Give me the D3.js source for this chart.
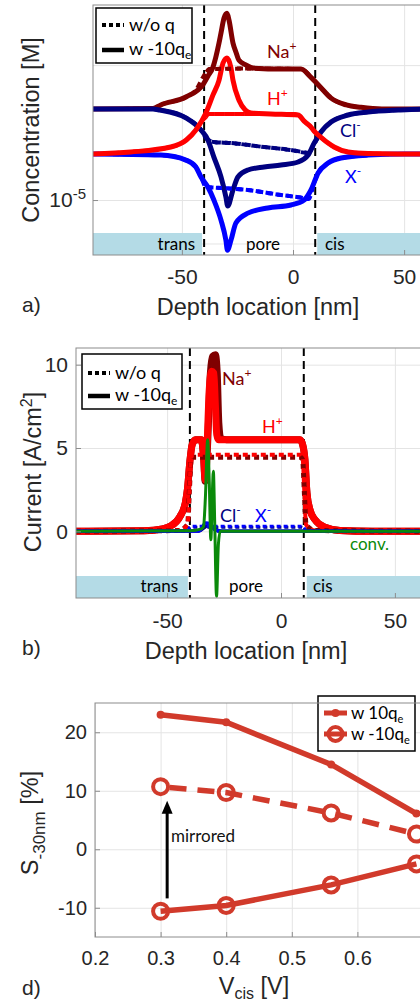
<!DOCTYPE html>
<html>
<head>
<meta charset="utf-8">
<script src="https://cdn.jsdelivr.net/npm/d3@7"></script>
<style>
body { margin: 0; background: #fff; }
svg { display: block; font-family: "Liberation Sans", Arial, sans-serif; }
.grid line { stroke: #e4e4e4; stroke-width: 1; }
.grid path { display: none; }
.axis path { display: none; }
.axis line { stroke: #8c8c8c; }
.axis text { fill: #262626; font-family: "Liberation Sans", Arial, sans-serif; }
.frame { fill: none; stroke: #8c8c8c; stroke-width: 1; }
.lbl { font-family: Lato, "Open Sans", sans-serif; }
.title { fill: #262626; font-size: 23.5px; }
</style>
</head>
<body>
<script>
// ---------- data: panel a (concentration [M] vs depth [nm]) ----------
var depthTicks = [-50, 0, 50];
var concGrid = [8e-6, 1e-5, 2e-5];
var concTicks = [1e-5];
var poreEdges = [-40, 10];

var naSolidA = [[-90,1.596e-5],[-63,1.60e-5],[-59.5,1.63e-5],[-48,1.70e-5],[-40.5,1.81e-5],[-38.3,1.89e-5],[-36,1.98e-5],[-33.3,2.24e-5],[-32.4,2.36e-5],[-31,2.55e-5],[-29.7,2.61e-5],[-28.8,2.52e-5],[-27,2.24e-5],[-25.7,2.14e-5],[-24.3,2.05e-5],[-21,2.00e-5],[-18,1.97e-5],[-5,1.96e-5],[3.6,1.96e-5],[8,1.88e-5],[12.6,1.78e-5],[17,1.69e-5],[24,1.63e-5],[30.6,1.61e-5],[40,1.596e-5],[90,1.596e-5]];
var naDashA = [[-90,1.596e-5],[-63,1.60e-5],[-59.5,1.63e-5],[-48,1.70e-5],[-43.7,1.76e-5],[-40.5,1.88e-5],[-39,1.93e-5],[-37.5,1.96e-5],[-20,1.965e-5],[3.6,1.96e-5],[8,1.88e-5],[12.6,1.78e-5],[17,1.69e-5],[24,1.63e-5],[30.6,1.61e-5],[40,1.596e-5],[90,1.596e-5]];
var hSolidA = [[-90,1.267e-5],[-73,1.28e-5],[-55,1.313e-5],[-48,1.361e-5],[-43.7,1.433e-5],[-39.2,1.564e-5],[-36,1.716e-5],[-33.3,1.85e-5],[-31.5,2.02e-5],[-29.7,2.075e-5],[-27.9,1.97e-5],[-27,1.85e-5],[-24.3,1.67e-5],[-21.5,1.588e-5],[-18.9,1.564e-5],[-10,1.556e-5],[2.3,1.548e-5],[5,1.50e-5],[8.1,1.455e-5],[9.5,1.425e-5],[12.6,1.38e-5],[15.8,1.34e-5],[18.5,1.313e-5],[24.8,1.28e-5],[33.8,1.27e-5],[47,1.267e-5],[90,1.267e-5]];
var hDashA = [[-90,1.267e-5],[-73,1.28e-5],[-55,1.313e-5],[-48,1.361e-5],[-43.7,1.433e-5],[-40.5,1.51e-5],[-39.2,1.532e-5],[-37.8,1.556e-5],[0,1.556e-5],[2.3,1.548e-5],[5,1.50e-5],[8.1,1.455e-5],[9.5,1.425e-5],[12.6,1.38e-5],[15.8,1.34e-5],[18.5,1.313e-5],[24.8,1.28e-5],[33.8,1.27e-5],[47,1.267e-5],[90,1.267e-5]];
var clSolidA = [[-90,1.596e-5],[-63,1.596e-5],[-60,1.588e-5],[-48,1.524e-5],[-41.4,1.433e-5],[-38.3,1.361e-5],[-35.6,1.247e-5],[-32.4,1.126e-5],[-30.2,1.016e-5],[-29.4,0.97e-5],[-27,1.053e-5],[-24.8,1.126e-5],[-20.3,1.167e-5],[-13,1.185e-5],[-5.4,1.197e-5],[2.3,1.216e-5],[6.8,1.26e-5],[9.5,1.34e-5],[12.6,1.419e-5],[17.1,1.493e-5],[24.8,1.548e-5],[33.8,1.572e-5],[47.3,1.588e-5],[60,1.596e-5],[90,1.596e-5]];
var clDashA = [[-90,1.596e-5],[-63,1.596e-5],[-60,1.588e-5],[-48,1.524e-5],[-41.4,1.433e-5],[-39.2,1.375e-5],[-35.6,1.347e-5],[-27.9,1.34e-5],[-13,1.313e-5],[-0.9,1.293e-5],[6.8,1.273e-5],[9.5,1.33e-5],[12.6,1.419e-5],[17.1,1.493e-5],[24.8,1.548e-5],[33.8,1.572e-5],[47.3,1.588e-5],[60,1.596e-5],[90,1.596e-5]];
var xSolidA = [[-90,1.267e-5],[-59.5,1.26e-5],[-48.2,1.228e-5],[-43.7,1.185e-5],[-41.4,1.126e-5],[-38.3,1.069e-5],[-35.6,1.0e-5],[-32.4,0.902e-5],[-30.2,0.814e-5],[-29.5,0.773e-5],[-27.9,0.814e-5],[-25.7,0.889e-5],[-20.3,0.935e-5],[-11.3,0.96e-5],[-0.9,0.975e-5],[5,1.0e-5],[8.1,1.053e-5],[11.3,1.149e-5],[15.8,1.209e-5],[21.6,1.241e-5],[33.8,1.26e-5],[50,1.267e-5],[90,1.267e-5]];
var xDashA = [[-90,1.267e-5],[-59.5,1.26e-5],[-48.2,1.228e-5],[-43.7,1.185e-5],[-41.4,1.126e-5],[-39.2,1.069e-5],[-32.4,1.064e-5],[-20.3,1.053e-5],[-5.4,1.026e-5],[5,1.01e-5],[7,1.005e-5],[9.5,1.09e-5],[11.3,1.149e-5],[15.8,1.209e-5],[21.6,1.241e-5],[33.8,1.26e-5],[50,1.267e-5],[90,1.267e-5]];

// ---------- data: panel b (current [A/cm2] vs depth [nm]) ----------
var currentTicks = [0, 5, 10];
var naSolidB = [[-90,0],[-60,0.03],[-52,0.15],[-48.7,0.3],[-44.3,0.9],[-42,1.7],[-41,2.6],[-40,4.2],[-39,5.2],[-37.5,5.5],[-35,5.5],[-34,4.5],[-33.3,3.0],[-32.3,5],[-31,9.5],[-30,10.5],[-28.8,10.6],[-28,9.5],[-27.3,6.5],[-26.5,5.6],[-24,5.5],[8.3,5.5],[9.5,5.2],[10.5,4.3],[11.4,2.3],[12.7,1.3],[14.9,0.7],[19.3,0.24],[25.9,0.05],[40,0],[90,0]];
var hSolidB = [[-90,0],[-60,0.03],[-52,0.15],[-48.7,0.3],[-44.3,0.9],[-42,1.7],[-41,2.6],[-40,4.2],[-39,5.2],[-37.5,5.5],[-35,5.5],[-34,4.5],[-33.3,3.1],[-32.5,5],[-31.5,8.5],[-30.5,9.6],[-29.5,9.5],[-28.8,7.5],[-28.2,5.8],[-27.5,5.5],[8.3,5.5],[9.5,5.2],[10.5,4.3],[11.4,2.3],[12.7,1.3],[14.9,0.7],[19.3,0.24],[25.9,0.05],[40,0],[90,0]];
var naDashB = [[-90,0],[-45,0.05],[-41,0.4],[-40.2,2.5],[-39.5,4.3],[-38.5,4.45],[8.5,4.45],[9.5,4.3],[10.2,2.5],[11,0.4],[15,0.05],[90,0]];
var hDashB = [[-90,0],[-45,0.05],[-41,0.4],[-40.2,2.5],[-39.5,4.4],[-38.5,4.6],[8.5,4.6],[9.5,4.4],[10.2,2.5],[11,0.4],[15,0.05],[90,0]];
var clSolidB = [[-90,0],[-36,0.02],[-33,0.3],[-31,0.4],[-29,0.1],[-26,0],[90,0]];
var xSolidB = [[-90,0],[-36,0.02],[-33,0.5],[-31,0.45],[-29,0.1],[-26,0],[90,0]];
var clDashB = [[-90,0],[-41,0.02],[-40,0.2],[-39,0.25],[9,0.25],[10,0.2],[11,0.02],[90,0]];
var xDashB = [[-90,0],[-41,0.02],[-40,0.25],[-39,0.3],[9,0.3],[10,0.25],[11,0.02],[90,0]];
var convB = [[-90,0],[-40,0.03],[-35,0.15],[-34,0.3],[-33.2,2],[-32.2,5.5],[-31.5,3],[-30.8,-0.5],[-30.2,2],[-29.7,3.6],[-29.1,0.5],[-28.3,-3.9],[-27.5,-0.8],[-26.7,0],[90,0]];

// ---------- data: panel d (S_-30nm [%] vs V_cis [V]) ----------
var vcisTicks = [0.2, 0.3, 0.4, 0.5, 0.6];
var sTicks = [-10, 0, 10, 20];
var vcis = [0.3, 0.4, 0.56, 0.69];
var sPos = [23.0, 21.7, 14.5, 6.1];      // w 10q_e
var sNeg = [-10.6, -9.6, -6.1, -2.5];    // w -10q_e
var sMirror = [10.7, 9.7, 6.2, 2.6];     // w -10q_e, mirrored

var colNa = "#800000", colH = "#ff0000", colCl = "#000080", colX = "#0000ff", colConv = "#0a8a0a", colD = "#d13a2b";
var bandCol = "#b4dbe6";

var svg = d3.select("body").append("svg")
    .attr("width", 420)
    .attr("height", 1004);

// helpers
function grid(g, x, y, xt, yt, x0, y0, y1, x1) {
  g.append("g").attr("class", "grid")
      .attr("transform", "translate(0," + y0 + ")")
      .call(d3.axisBottom(x).tickValues(xt).tickSize(-(y0 - y1)).tickFormat(""));
  g.append("g").attr("class", "grid")
      .attr("transform", "translate(" + x0 + ",0)")
      .call(d3.axisLeft(y).tickValues(yt).tickSize(-(x1 - x0)).tickFormat(""));
}

function sub(t, main, s, size) {
  t.append("tspan").text(main);
  t.append("tspan").attr("dy", 4).attr("font-size", size).text(s);
}

function sup(t, main, s, size) {
  t.append("tspan").text(main);
  t.append("tspan").attr("dy", -8).attr("font-size", size).text(s);
}

function legendBox(g, bx, by, bw, bh, ly1, ly2, tx) {
  g.append("rect")
      .attr("x", bx).attr("y", by).attr("width", bw).attr("height", bh)
      .attr("fill", "#fff").attr("stroke", "#000").attr("stroke-width", 1.5);
  g.append("line")
      .attr("x1", bx + 6).attr("x2", bx + 28).attr("y1", ly1).attr("y2", ly1)
      .attr("stroke", "#000").attr("stroke-width", 4).attr("stroke-dasharray", "4,3");
  g.append("line")
      .attr("x1", bx + 6).attr("x2", bx + 28).attr("y1", ly2).attr("y2", ly2)
      .attr("stroke", "#000").attr("stroke-width", 4.5);
  g.append("text").attr("class", "lbl").attr("x", tx).attr("y", ly1 + 6)
      .attr("font-size", 18).text("w/o q");
  sub(g.append("text").attr("class", "lbl").attr("x", tx).attr("y", ly2 + 5)
      .attr("font-size", 18), "w -10q", "e", 12);
}

// =============== panel a ===============
var A = {left: 93, top: 5, bottom: 255, right: 493};
var xA = d3.scaleLinear().domain([-90, 90]).range([A.left, A.right]);
var yA = d3.scaleLog().domain([7.54e-6, 2.724e-5]).range([A.bottom, A.top]);
var gA = svg.append("g");

grid(gA, xA, yA, depthTicks, concGrid, A.left, A.bottom, A.top, A.right);

gA.append("clipPath").attr("id", "clipA").append("rect")
    .attr("x", A.left).attr("y", A.top).attr("width", A.right - A.left).attr("height", A.bottom - A.top);

// region bands
gA.append("rect").attr("x", xA(-90)).attr("y", A.bottom - 22)
    .attr("width", xA(poreEdges[0]) - xA(-90) - 2).attr("height", 22).attr("fill", bandCol);
gA.append("rect").attr("x", xA(poreEdges[1]) + 2).attr("y", A.bottom - 22)
    .attr("width", xA(90) - xA(poreEdges[1])).attr("height", 22).attr("fill", bandCol);

// pore edges
gA.selectAll(".pore").data(poreEdges).enter().append("line")
    .attr("x1", d => xA(d)).attr("x2", d => xA(d))
    .attr("y1", A.top).attr("y2", A.bottom)
    .attr("stroke", "#000").attr("stroke-width", 2).attr("stroke-dasharray", "8,5");

var lineA = d3.line().x(d => xA(d[0])).y(d => yA(d[1])).curve(d3.curveMonotoneX);
var curvesA = gA.append("g").attr("clip-path", "url(#clipA)");
[[naDashA, colNa], [hDashA, colH], [clDashA, colCl], [xDashA, colX]].forEach(function(s) {
  curvesA.append("path").attr("d", lineA(s[0])).attr("fill", "none")
      .attr("stroke", s[1]).attr("stroke-width", 4).attr("stroke-dasharray", "6,4");
});
[[naSolidA, colNa], [clSolidA, colCl], [xSolidA, colX], [hSolidA, colH]].forEach(function(s) {
  curvesA.append("path").attr("d", lineA(s[0])).attr("fill", "none")
      .attr("stroke", s[1]).attr("stroke-width", 5);
});
// dashed curves over solid inside the pore
[[naDashA, colNa], [hDashA, colH], [clDashA, colCl], [xDashA, colX]].forEach(function(s) {
  curvesA.append("path").attr("d", lineA(s[0].filter(d => d[0] > -40 && d[0] < 9))).attr("fill", "none")
      .attr("stroke", s[1]).attr("stroke-width", 4).attr("stroke-dasharray", "6,4");
});

// band labels
gA.append("text").attr("class", "lbl").attr("x", 195).attr("y", 250).attr("text-anchor", "end").attr("font-size", 17).text("trans");
gA.append("text").attr("class", "lbl").attr("x", 263).attr("y", 250).attr("text-anchor", "middle").attr("font-size", 17).text("pore");
gA.append("text").attr("class", "lbl").attr("x", 325).attr("y", 250).attr("font-size", 17).text("cis");

// species labels
sup(gA.append("text").attr("class", "lbl").attr("x", 267).attr("y", 58).attr("font-size", 18).attr("fill", colNa), "Na", "+", 12);
sup(gA.append("text").attr("class", "lbl").attr("x", 267).attr("y", 105).attr("font-size", 18).attr("fill", colH), "H", "+", 12);
sup(gA.append("text").attr("class", "lbl").attr("x", 340).attr("y", 137).attr("font-size", 18).attr("fill", colCl), "Cl", "-", 12);
sup(gA.append("text").attr("class", "lbl").attr("x", 345).attr("y", 183).attr("font-size", 18).attr("fill", colX), "X", "-", 12);

legendBox(gA, 96, 8, 96, 55, 25, 50, 129);

gA.append("rect").attr("class", "frame")
    .attr("x", A.left).attr("y", A.top).attr("width", A.right - A.left).attr("height", A.bottom - A.top);

gA.append("g").attr("class", "axis").attr("transform", "translate(0," + A.bottom + ")")
    .call(d3.axisBottom(xA).tickValues(depthTicks).tickSize(-5).tickPadding(14).tickFormat(d => String(d)))
    .selectAll("text").attr("font-size", 21);
gA.append("g").attr("class", "axis").attr("transform", "translate(" + A.left + ",0)")
    .call(d3.axisLeft(yA).tickValues(concTicks).tickSize(-5).tickPadding(7).tickFormat(""))
    .selectAll("text").attr("font-size", 21)
    .each(function() { sup(d3.select(this), "10", "-5", 15); });

gA.append("text").attr("class", "title").attr("x", 258).attr("y", 315).attr("text-anchor", "middle").text("Depth location [nm]");
gA.append("text").attr("class", "title").attr("transform", "translate(39,130) rotate(-90)").attr("text-anchor", "middle").text("Concentration [M]");
gA.append("text").attr("x", 22).attr("y", 312).attr("font-size", 21).attr("fill", "#262626").text("a)");

// =============== panel b ===============
var B = {left: 76, top: 348, bottom: 598, right: 486};
var xB = d3.scaleLinear().domain([-90, 90]).range([B.left, B.right]);
var yB = d3.scaleLinear().domain([-4, 11]).range([B.bottom, B.top]);
var gB = svg.append("g");

grid(gB, xB, yB, depthTicks, currentTicks, B.left, B.bottom, B.top, B.right);

gB.append("clipPath").attr("id", "clipB").append("rect")
    .attr("x", B.left).attr("y", B.top).attr("width", B.right - B.left).attr("height", B.bottom - B.top);

gB.append("rect").attr("x", xB(-90)).attr("y", B.bottom - 22)
    .attr("width", xB(poreEdges[0]) - xB(-90) - 2).attr("height", 22).attr("fill", bandCol);
gB.append("rect").attr("x", xB(poreEdges[1]) + 3).attr("y", B.bottom - 22)
    .attr("width", xB(90) - xB(poreEdges[1])).attr("height", 22).attr("fill", bandCol);

gB.selectAll(".pore").data(poreEdges).enter().append("line")
    .attr("x1", d => xB(d)).attr("x2", d => xB(d))
    .attr("y1", B.top).attr("y2", B.bottom)
    .attr("stroke", "#000").attr("stroke-width", 2).attr("stroke-dasharray", "8,5");

gB.append("text").attr("class", "lbl").attr("x", 178).attr("y", 592).attr("text-anchor", "end").attr("font-size", 17).text("trans");
gB.append("text").attr("class", "lbl").attr("x", 246).attr("y", 592).attr("text-anchor", "middle").attr("font-size", 17).text("pore");
gB.append("text").attr("class", "lbl").attr("x", 313).attr("y", 592).attr("font-size", 17).text("cis");

var lineB = d3.line().x(d => xB(d[0])).y(d => yB(d[1])).curve(d3.curveMonotoneX);
var curvesB = gB.append("g").attr("clip-path", "url(#clipB)");
curvesB.append("path").attr("d", lineB(naSolidB)).attr("fill", "none").attr("stroke", colNa).attr("stroke-width", 7);
curvesB.append("path").attr("d", lineB(hSolidB)).attr("fill", "none").attr("stroke", colH).attr("stroke-width", 7);
curvesB.append("path").attr("d", lineB(naDashB)).attr("fill", "none").attr("stroke", colNa).attr("stroke-width", 5).attr("stroke-dasharray", "5,4");
curvesB.append("path").attr("d", lineB(hDashB)).attr("fill", "none").attr("stroke", colH).attr("stroke-width", 4).attr("stroke-dasharray", "5,4");
curvesB.append("path").attr("d", lineB(clSolidB)).attr("fill", "none").attr("stroke", colCl).attr("stroke-width", 3.5);
curvesB.append("path").attr("d", lineB(xSolidB)).attr("fill", "none").attr("stroke", colX).attr("stroke-width", 3.5);
curvesB.append("path").attr("d", lineB(clDashB)).attr("fill", "none").attr("stroke", colCl).attr("stroke-width", 3).attr("stroke-dasharray", "4,3");
curvesB.append("path").attr("d", lineB(xDashB)).attr("fill", "none").attr("stroke", colX).attr("stroke-width", 3).attr("stroke-dasharray", "4,3");
curvesB.append("path").attr("d", lineB(convB)).attr("fill", "none").attr("stroke", colConv).attr("stroke-width", 3);

sup(gB.append("text").attr("class", "lbl").attr("x", 222).attr("y", 385).attr("font-size", 18).attr("fill", colNa), "Na", "+", 12);
sup(gB.append("text").attr("class", "lbl").attr("x", 262).attr("y", 433).attr("font-size", 18).attr("fill", colH), "H", "+", 12);
sup(gB.append("text").attr("class", "lbl").attr("x", 220).attr("y", 522).attr("font-size", 18).attr("fill", colCl), "Cl", "-", 12);
sup(gB.append("text").attr("class", "lbl").attr("x", 255).attr("y", 522).attr("font-size", 18).attr("fill", colX), "X", "-", 12);
gB.append("text").attr("class", "lbl").attr("x", 350).attr("y", 550).attr("font-size", 17).attr("fill", colConv).text("conv.");

legendBox(gB, 82, 354, 100, 55, 373, 396, 115);

gB.append("rect").attr("class", "frame")
    .attr("x", B.left).attr("y", B.top).attr("width", B.right - B.left).attr("height", B.bottom - B.top);

gB.append("g").attr("class", "axis").attr("transform", "translate(0," + B.bottom + ")")
    .call(d3.axisBottom(xB).tickValues(depthTicks).tickSize(-5).tickPadding(15).tickFormat(d => String(d)))
    .selectAll("text").attr("font-size", 21);
gB.append("g").attr("class", "axis").attr("transform", "translate(" + B.left + ",0)")
    .call(d3.axisLeft(yB).tickValues(currentTicks).tickSize(-5).tickPadding(8).tickFormat(d => String(d)))
    .selectAll("text").attr("font-size", 21);

gB.append("text").attr("class", "title").attr("x", 246).attr("y", 659).attr("text-anchor", "middle").text("Depth location [nm]");
var tB = gB.append("text").attr("class", "title").attr("transform", "translate(41,472) rotate(-90)").attr("text-anchor", "middle");
tB.append("tspan").text("Current [A/cm");
tB.append("tspan").attr("dy", -9).attr("font-size", 16).text("2");
tB.append("tspan").attr("dy", 9).text("]");
gB.append("text").attr("x", 22).attr("y", 655).attr("font-size", 21).attr("fill", "#262626").text("b)");

// =============== panel d ===============
var D = {left: 95, top: 703, bottom: 937, right: 423};
var xD = d3.scaleLinear().domain([0.2, 0.7]).range([D.left, D.right]);
var yD = d3.scaleLinear().domain([-15, 25]).range([D.bottom, D.top]);
var gD = svg.append("g");

grid(gD, xD, yD, vcisTicks, sTicks, D.left, D.bottom, D.top, D.right);

var ptsPos = vcis.map((v, i) => [v, sPos[i]]);
var ptsNeg = vcis.map((v, i) => [v, sNeg[i]]);
var ptsMir = vcis.map((v, i) => [v, sMirror[i]]);
var lineD = d3.line().x(d => xD(d[0])).y(d => yD(d[1]));

gD.append("path").attr("d", lineD(ptsPos)).attr("fill", "none").attr("stroke", colD).attr("stroke-width", 5.5);
gD.append("path").attr("d", lineD(ptsNeg)).attr("fill", "none").attr("stroke", colD).attr("stroke-width", 5.5);
gD.append("path").attr("d", lineD(ptsMir)).attr("fill", "none").attr("stroke", colD).attr("stroke-width", 5.5).attr("stroke-dasharray", "17,11").attr("stroke-dashoffset", -9);

gD.selectAll(".dot").data(ptsPos).enter().append("circle")
    .attr("cx", d => xD(d[0])).attr("cy", d => yD(d[1])).attr("r", 4).attr("fill", colD);
gD.selectAll(".ring").data(ptsNeg.concat(ptsMir)).enter().append("circle")
    .attr("cx", d => xD(d[0])).attr("cy", d => yD(d[1])).attr("r", 7.5)
    .attr("fill", "none").attr("stroke", colD).attr("stroke-width", 4);

// mirrored arrow
var ax = xD(0.31);
gD.append("line").attr("x1", ax).attr("x2", ax).attr("y1", yD(-8.4)).attr("y2", yD(6.6))
    .attr("stroke", "#000").attr("stroke-width", 3);
gD.append("path")
    .attr("d", "M" + (ax - 5.5) + "," + (yD(8.3) + 13) + "L" + ax + "," + yD(8.3) + "L" + (ax + 5.5) + "," + (yD(8.3) + 13) + "Z")
    .attr("fill", "#000");
gD.append("text").attr("class", "lbl").attr("x", 171).attr("y", 842).attr("font-size", 17).attr("fill", "#111").text("mirrored");

// legend d
gD.append("rect").attr("x", 318).attr("y", 696).attr("width", 97).attr("height", 55)
    .attr("fill", "#fff").attr("stroke", "#000").attr("stroke-width", 1.5);
gD.append("line").attr("x1", 324).attr("x2", 347).attr("y1", 713).attr("y2", 713).attr("stroke", colD).attr("stroke-width", 5);
gD.append("circle").attr("cx", 335.5).attr("cy", 713).attr("r", 4).attr("fill", colD);
gD.append("line").attr("x1", 324).attr("x2", 347).attr("y1", 734).attr("y2", 734).attr("stroke", colD).attr("stroke-width", 5);
gD.append("circle").attr("cx", 335.5).attr("cy", 734).attr("r", 7).attr("fill", "none").attr("stroke", colD).attr("stroke-width", 4);
sub(gD.append("text").attr("class", "lbl").attr("x", 351).attr("y", 719).attr("font-size", 17), "w 10q", "e", 11);
sub(gD.append("text").attr("class", "lbl").attr("x", 351).attr("y", 740).attr("font-size", 17), "w -10q", "e", 11);

gD.append("rect").attr("class", "frame")
    .attr("x", D.left).attr("y", D.top).attr("width", D.right - D.left).attr("height", D.bottom - D.top);

gD.append("g").attr("class", "axis").attr("transform", "translate(0," + D.bottom + ")")
    .call(d3.axisBottom(xD).tickValues(vcisTicks).tickSize(-5).tickPadding(14).tickFormat(d => String(d)))
    .selectAll("text").attr("font-size", 20);
gD.append("g").attr("class", "axis").attr("transform", "translate(" + D.left + ",0)")
    .call(d3.axisLeft(yD).tickValues(sTicks).tickSize(-5).tickPadding(8).tickFormat(d => String(d)))
    .selectAll("text").attr("font-size", 20);

var tDx = gD.append("text").attr("class", "title").attr("x", 254).attr("y", 994).attr("text-anchor", "middle");
tDx.append("tspan").text("V");
tDx.append("tspan").attr("dy", 5).attr("font-size", 16).text("cis");
tDx.append("tspan").attr("dy", -5).text(" [V]");
var tDy = gD.append("text").attr("class", "title").attr("transform", "translate(38,823) rotate(-90)").attr("text-anchor", "middle");
tDy.append("tspan").text("S");
tDy.append("tspan").attr("dy", 7).attr("font-size", 17).text("-30nm");
tDy.append("tspan").attr("dy", -7).text(" [%]");
gD.append("text").attr("x", 22).attr("y", 995).attr("font-size", 21).attr("fill", "#262626").text("d)");
</script>
</body>
</html>
